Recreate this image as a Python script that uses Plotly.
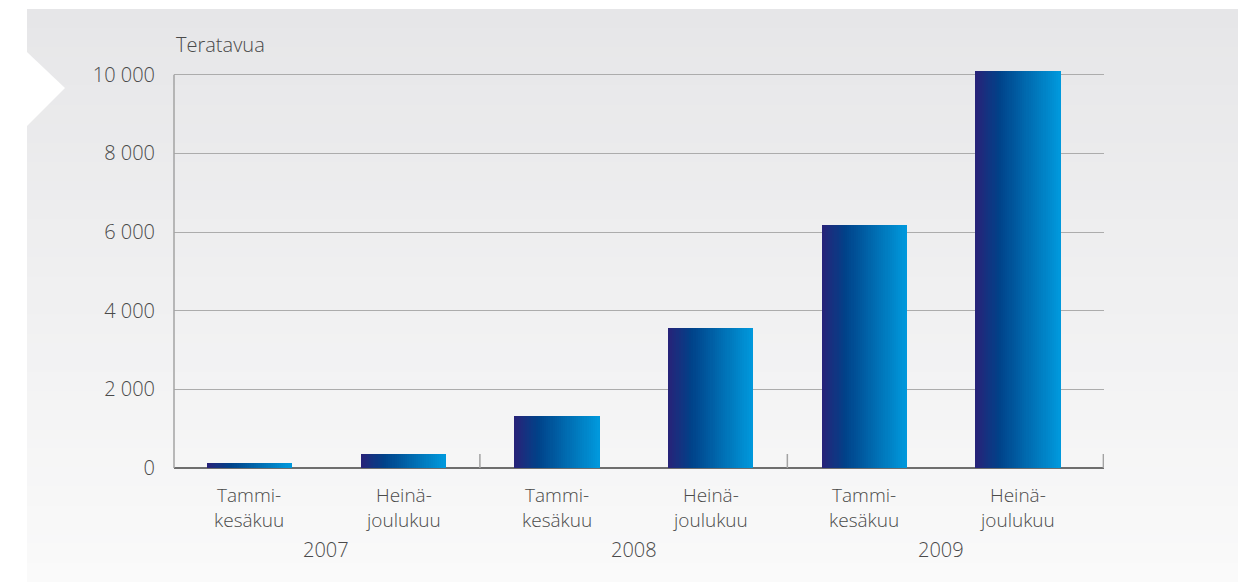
import plotly.graph_objects as go

# ---- data ----
periods = ["Tammi-<br>kesäkuu", "Heinä-<br>joulukuu",
           "Tammi-<br>kesäkuu", "Heinä-<br>joulukuu",
           "Tammi-<br>kesäkuu", "Heinä-<br>joulukuu"]
years = ["2007", "2008", "2009"]
values = [130, 360, 1320, 3560, 6180, 10090]
y_ticks = [0, 2000, 4000, 6000, 8000, 10000]
y_ticktext = ["0", "2 000", "4 000", "6 000", "8 000", "10 000"]
unit_label = "Teratavua"

# ---- layout geometry ----
W, H = 1240, 582
L, R, T, B = 174, 1104, 55, 468
YMAX = 10500
XR = [-0.49, 5.56]

def px(xp):
    return (xp - L) / (R - L)

def py(yp):
    return (B - yp) / (B - T)

FONT = "Open Sans"
TXT = "#4a4a4a"
FS = 20

def tfont(size=FS):
    return dict(family=FONT, size=size, color=TXT, weight=300)

fig = go.Figure()

# gradient bars built from thin slices
def lerp(c1, c2, t):
    return tuple(round(a + (b - a) * t) for a, b in zip(c1, c2))

stops = [(0.0, (0x28, 0x22, 0x78)), (0.28, (0x00, 0x42, 0x89)), (1.0, (0x00, 0x9a, 0xdd))]

def grad(t):
    for (t0, c0), (t1, c1) in zip(stops[:-1], stops[1:]):
        if t <= t1:
            return lerp(c0, c1, (t - t0) / (t1 - t0))
    return stops[-1][1]

N = 40
bw = 0.553
sw = bw / N
xs = list(range(len(values)))
for i in range(N):
    c = grad((i + 0.5) / N)
    fig.add_trace(go.Bar(
        x=xs, y=values, width=sw * 1.15, offset=-bw / 2 + i * sw,
        marker=dict(color="rgb(%d,%d,%d)" % c, line=dict(width=0)),
        showlegend=False, hoverinfo="skip"))

shapes = []
# background panel gradient
top_c = (0xe6, 0xe6, 0xe8)
bot_c = (0xfa, 0xfa, 0xfa)
ns = 60
p_top, p_bot = 9, H
for k in range(ns):
    y0 = p_top + (p_bot - p_top) * k / ns
    y1 = p_top + (p_bot - p_top) * (k + 1) / ns + 1
    c = lerp(top_c, bot_c, (k + 0.5) / ns)
    shapes.append(dict(type="rect", xref="paper", yref="paper", layer="below",
                       x0=px(27), x1=px(1238), y0=py(y1), y1=py(y0),
                       fillcolor="rgb(%d,%d,%d)" % c, line=dict(width=0)))
# white arrow on left
shapes.append(dict(type="path", xref="paper", yref="paper", layer="below",
                   path="M %f,%f L %f,%f L %f,%f Z" % (px(27), py(52), px(65), py(88), px(27), py(126)),
                   fillcolor="white", line=dict(width=0)))
# y axis line (0 .. 10000)
shapes.append(dict(type="line", xref="paper", yref="y", x0=0, x1=0, y0=0, y1=y_ticks[-1],
                   line=dict(color="#a3a3a3", width=1.5), layer="above"))
# group separator ticks on the x axis
for xv in [1.5, 3.5, XR[1] - 0.004]:
    shapes.append(dict(type="line", xref="x", yref="paper", x0=xv, x1=xv,
                       y0=0, y1=py(B - 14), line=dict(color="#a3a3a3", width=1.5),
                       layer="above"))

annotations = [dict(text=unit_label, xref="paper", yref="paper", x=0, y=py(45),
                    xanchor="left", yanchor="middle", showarrow=False, font=tfont())]
for i, p in enumerate(periods):
    annotations.append(dict(text=p, xref="x", yref="paper", x=i, y=py(508),
                            xanchor="center", yanchor="middle", showarrow=False,
                            font=tfont(19)))
for j, yr in enumerate(years):
    annotations.append(dict(text=yr, xref="x", yref="paper", x=2 * j + 0.5, y=py(549),
                            xanchor="center", yanchor="middle", showarrow=False,
                            font=tfont()))

fig.update_layout(
    width=W, height=H,
    margin=dict(l=L, r=W - R, t=T, b=H - B),
    paper_bgcolor="white", plot_bgcolor="rgba(0,0,0,0)",
    barmode="overlay", bargap=0,
    shapes=shapes, annotations=annotations,
    xaxis=dict(range=XR, showgrid=False, zeroline=False, showline=False,
               showticklabels=False, ticks="", fixedrange=True),
    yaxis=dict(range=[0, YMAX], tickvals=y_ticks, ticktext=y_ticktext,
               showgrid=True, gridcolor="#acacac", gridwidth=1.3,
               zeroline=True, zerolinecolor="#6e6e6e", zerolinewidth=1.6,
               showline=False, ticks="", ticklabelstandoff=18,
               tickfont=tfont(), fixedrange=True),
)

fig.write_html("out.html", config={"displayModeBar": False},
               post_script="document.body.style.margin='0';document.body.style.overflow='hidden';")
